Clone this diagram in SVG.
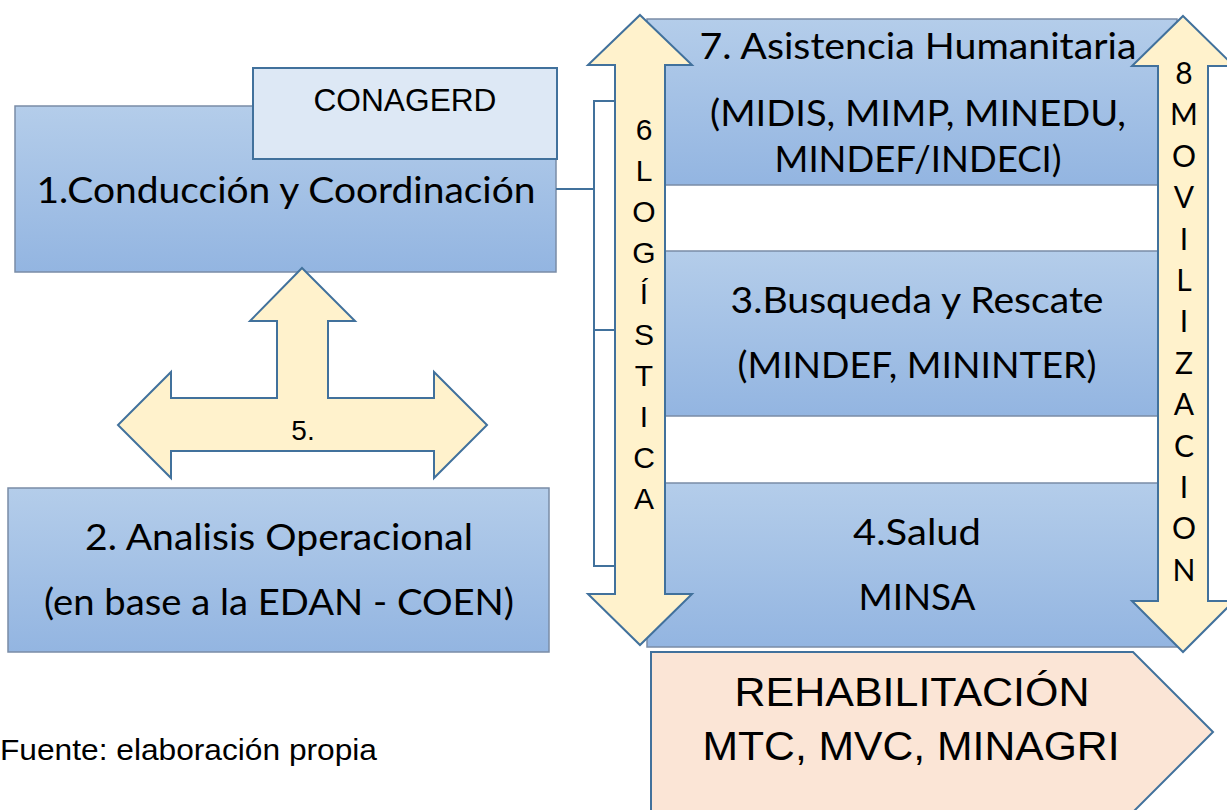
<svg xmlns="http://www.w3.org/2000/svg" width="1227" height="810" viewBox="0 0 1227 810">
<defs>
<linearGradient id="bg" x1="0" y1="0" x2="0" y2="1">
<stop offset="0" stop-color="#b4cdea"/>
<stop offset="1" stop-color="#93b5e1"/>
</linearGradient>
<style>
.box{fill:url(#bg);stroke:#7a8ca6;stroke-width:1.5}
.con{fill:#dde8f5;stroke:#41719c;stroke-width:2}
.arr{fill:#fff2cc;stroke:#41719c;stroke-width:2;stroke-linejoin:miter}
.pent{fill:#fbe5d6;stroke:#41719c;stroke-width:2}
.link{fill:none;stroke:#41719c;stroke-width:2}
.cal{font-family:Lato,"Open Sans",sans-serif;font-size:37px;fill:#000;text-anchor:middle}
.ar{font-family:"Liberation Sans",Arial,sans-serif;fill:#000;text-anchor:middle}
.src{font-family:"Liberation Sans",Arial,sans-serif;fill:#000;text-anchor:start}
.lt{font-family:"Liberation Sans",Arial,sans-serif;font-size:30px;fill:#000;text-anchor:middle}
.rt{font-family:Lato,"Open Sans",sans-serif;font-size:30px;fill:#000;text-anchor:middle}
</style>
</defs>
<rect width="1227" height="810" fill="#ffffff"/>

<g id="node-conduccion">
<rect class="box" x="15" y="106" width="541" height="166"/>
<text class="cal" x="286" y="203" textLength="499" lengthAdjust="spacingAndGlyphs">1.Conducción y Coordinación</text>
</g>
<g id="node-conagerd">
<rect class="con" x="253" y="68" width="304" height="91"/>
<text class="ar" x="405" y="111" font-size="31" textLength="183" lengthAdjust="spacingAndGlyphs">CONAGERD</text>
</g>
<g id="node-analisis">
<rect class="box" x="8" y="488" width="541" height="164"/>
<text class="cal" x="279" y="550" textLength="388" lengthAdjust="spacingAndGlyphs">2. Analisis Operacional</text>
<text class="cal" x="279" y="615" textLength="470" lengthAdjust="spacingAndGlyphs">(en base a la EDAN - COEN)</text>
</g>
<g id="node-asistencia">
<rect class="box" x="647" y="19" width="530" height="166"/>
<text class="cal" x="918" y="59" textLength="437" lengthAdjust="spacingAndGlyphs">7. Asistencia Humanitaria</text>
<text class="cal" x="918" y="126" textLength="416" lengthAdjust="spacingAndGlyphs">(MIDIS, MIMP, MINEDU,</text>
<text class="cal" x="918" y="172" textLength="287" lengthAdjust="spacingAndGlyphs">MINDEF/INDECI)</text>
</g>
<g id="node-busqueda">
<rect class="box" x="647" y="251" width="530" height="165"/>
<text class="cal" x="917" y="313" textLength="373" lengthAdjust="spacingAndGlyphs">3.Busqueda y Rescate</text>
<text class="cal" x="917" y="378" textLength="359" lengthAdjust="spacingAndGlyphs">(MINDEF, MININTER)</text>
</g>
<g id="node-salud">
<rect class="box" x="647" y="483" width="530" height="164"/>
<text class="cal" x="917" y="545" textLength="128" lengthAdjust="spacingAndGlyphs">4.Salud</text>
<text class="cal" x="917" y="610" textLength="117" lengthAdjust="spacingAndGlyphs">MINSA</text>
</g>

<g id="connectors">
<path class="link" d="M556,189 H594 M615,101 H594 V566 H615 M594,330 H615"/>
</g>

<g id="node-logistica">
<path class="arr" d="M640,15 L692,65 L665,65 L665,594 L692,594 L640,645 L588,594 L615,594 L615,65 L588,65 Z"/>
<text class="lt" x="644" y="140">6</text>
<text class="lt" x="644" y="181">L</text>
<text class="lt" x="644" y="222">O</text>
<text class="lt" x="644" y="263">G</text>
<text class="lt" x="644" y="304">Í</text>
<text class="lt" x="644" y="345">S</text>
<text class="lt" x="644" y="386">T</text>
<text class="lt" x="644" y="427">I</text>
<text class="lt" x="644" y="468">C</text>
<text class="lt" x="644" y="509">A</text>
</g>

<g id="node-movilizacion">
<path class="arr" d="M1183,16 L1234,66 L1208,66 L1208,601 L1234,601 L1183,652 L1132,601 L1158,601 L1158,66 L1132,66 Z"/>
<text class="rt" x="1184" y="84">8</text>
<text class="rt" x="1184" y="125">M</text>
<text class="rt" x="1184" y="167">O</text>
<text class="rt" x="1184" y="208">V</text>
<text class="rt" x="1184" y="250">I</text>
<text class="rt" x="1184" y="291">L</text>
<text class="rt" x="1184" y="332">I</text>
<text class="rt" x="1184" y="374">Z</text>
<text class="rt" x="1184" y="415">A</text>
<text class="rt" x="1184" y="457">C</text>
<text class="rt" x="1184" y="498">I</text>
<text class="rt" x="1184" y="539">O</text>
<text class="rt" x="1184" y="581">N</text>
</g>

<g id="node-5">
<path class="arr" d="M302,268 L355,321 L328,321 L328,398 L434,398 L434,372 L487,425 L434,478 L434,451 L171,451 L171,478 L118,425 L171,372 L171,398 L277,398 L277,321 L250,321 Z"/>
<text class="ar" x="303" y="440" font-size="28">5.</text>
</g>

<g id="node-rehabilitacion">
<path class="pent" d="M651,652 L1133,652 L1213,732 L1133,812 L651,812 Z"/>
<text class="ar" x="912" y="706" font-size="41" textLength="355" lengthAdjust="spacingAndGlyphs">REHABILITACIÓN</text>
<text class="ar" x="911" y="760" font-size="41" textLength="417" lengthAdjust="spacingAndGlyphs">MTC, MVC, MINAGRI</text>
</g>

<g id="fuente">
<text class="src" x="0" y="760" font-size="30" textLength="377" lengthAdjust="spacingAndGlyphs">Fuente: elaboración propia</text>
</g>
</svg>
